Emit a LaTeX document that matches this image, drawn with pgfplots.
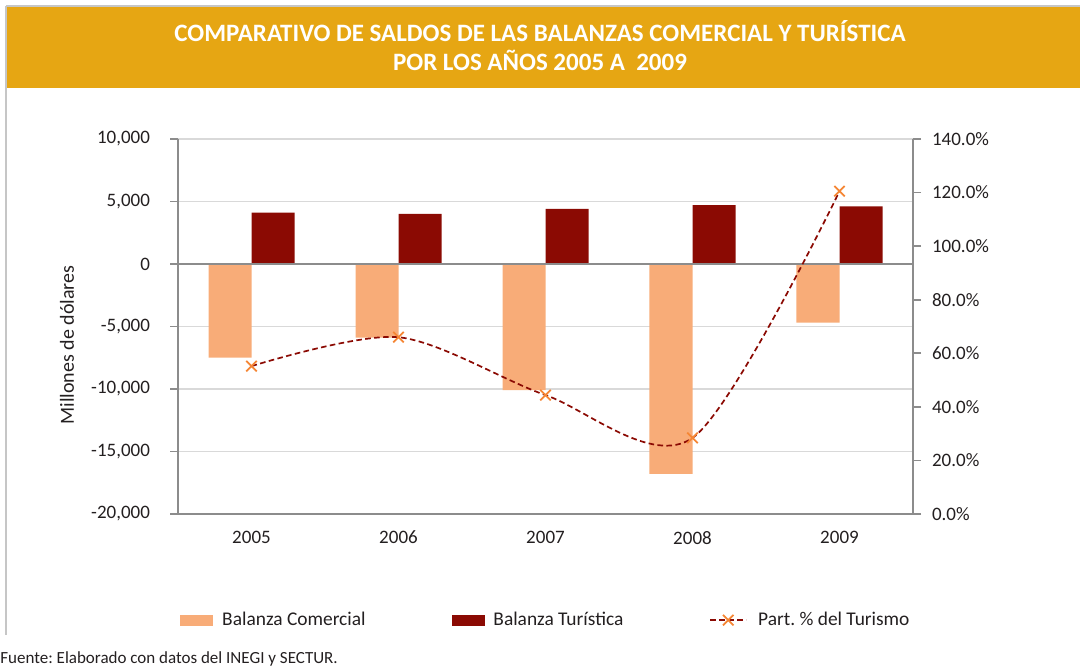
\documentclass[border=0pt]{standalone}
\usepackage{pgfplots}
\pgfplotsset{compat=1.18}
\usepackage{fontspec}
\setmainfont{Carlito}
\frenchspacing
\definecolor{banner}{HTML}{E6A613}
\definecolor{barC}{HTML}{F8AC78}
\definecolor{barT}{HTML}{8B0A03}
\definecolor{markc}{HTML}{F58634}
\definecolor{gridc}{HTML}{D9D9D9}
\definecolor{axisc}{HTML}{8C8C8C}
\definecolor{textc}{HTML}{231F20}
\pgfplotsset{mylinelegend/.style={legend image code/.code={%
  \draw[mark repeat=2,mark phase=2,##1] plot coordinates {(0pt,0pt) (9pt,0pt) (18pt,0pt)};
  \path (21.5pt,0pt);}}}
\begin{document}
\begin{tikzpicture}
\path[use as bounding box] (0pt,0pt) rectangle (540pt,334pt);
\fill[banner] (3pt,290pt) rectangle (540pt,331pt);
\draw[gray!45, line width=0.6pt] (3pt,331pt) -- (540pt,331pt);
\draw[gray!45, line width=0.6pt] (3pt,331pt) -- (3pt,16.5pt);
\node[white, font=\bfseries\fontsize{12.5}{14.5}\selectfont, align=center] at (270pt,311pt)
  {COMPARATIVO DE SALDOS DE LAS BALANZAS COMERCIAL Y TURÍSTICA\\POR LOS AÑOS 2005 A\ \ 2009};
\node[rotate=90, text=textc, font=\fontsize{10}{12}\selectfont] at (33.5pt,161.5pt) {Millones de dólares};
\node[anchor=west, text=textc, font=\fontsize{8.5}{10}\selectfont, inner sep=0pt] at (0pt,4.5pt) {Fuente: Elaborado con datos del INEGI y SECTUR.};

\begin{axis}[
  at={(89pt,77pt)}, anchor=south west, scale only axis,
  width=367.5pt, height=187.5pt,
  xmin=-0.5, xmax=4.5, ymin=-20000, ymax=10000,
  axis x line*=bottom, axis y line*=left,
  scaled y ticks=false,
  ytick={-20000,-15000,-10000,-5000,0,5000,10000},
  yticklabels={{-20,000},{-15,000},{-10,000},{-5,000},{0},{5,000},{10,000}},
  xtick={0,1,2,3,4}, xticklabels={2005,2006,2007,2008,2009},
  xtick style={draw=none},
  xticklabel style={yshift=-1pt},
  yticklabel style={xshift=-6.5pt},
  ymajorgrids, grid style={gridc, line width=0.6pt},
  axis line style={axisc, line width=0.8pt},
  ytick style={axisc, line width=0.8pt},
  major tick length=4pt, tick align=outside,
  ticklabel style={font=\fontsize{9.5}{12}\selectfont, text=textc},
  /pgf/number format/assume math mode=true,
  ybar, bar width=21.5pt, clip=false,
]
\addplot[fill=barC, draw=none, bar shift=-10.75pt] coordinates {(0,-7500) (1,-5900) (2,-10100) (3,-16800) (4,-4700)};
\addplot[fill=barT, draw=none, bar shift=10.75pt] coordinates {(0,4100) (1,4000) (2,4400) (3,4700) (4,4600)};
\draw[axisc, line width=0.8pt] (axis cs:-0.5,0) -- (axis cs:4.5,0);
\end{axis}

\begin{axis}[
  at={(89pt,77pt)}, anchor=south west, scale only axis,
  width=367.5pt, height=187.5pt,
  xmin=-0.5, xmax=4.5, ymin=0, ymax=140,
  axis x line=none, axis y line*=right,
  ytick={0,20,40,60,80,100,120,140},
  yticklabels={{0.0\%},{20.0\%},{40.0\%},{60.0\%},{80.0\%},{100.0\%},{120.0\%},{140.0\%}},
  yticklabel style={xshift=2pt},
  axis line style={axisc, line width=0.8pt},
  ytick style={axisc, line width=0.8pt},
  major tick length=4pt, tick align=outside,
  ticklabel style={font=\fontsize{9.5}{12}\selectfont, text=textc},
  /pgf/number format/assume math mode=true,
  clip=false,
  legend columns=3,
  legend style={draw=none, fill=none, at={(0.502,-0.283)}, anchor=center,
    font=\fontsize{9.7}{12}\selectfont, text=textc,
    /tikz/every even column/.append style={column sep=41pt}},
]
\addlegendimage{legend image code/.code={\fill[barC] (0pt,-2.5pt) rectangle (16pt,2.5pt); \path (18.5pt,0pt);}}
\addlegendimage{legend image code/.code={\fill[barT] (0pt,-2.5pt) rectangle (16pt,2.5pt); \path (18.5pt,0pt);}}
\addplot[barT, line width=0.85pt, dash pattern=on 2.8pt off 1.7pt, smooth,
  mark=x, mark size=3.7pt, mark options={solid, markc, line width=0.9pt}, mylinelegend]
  coordinates {(0,55.2) (1,66.0) (2,44.4) (3,28.4) (4,120.5)};
\legend{Balanza Comercial, Balanza Turística, Part. \% del Turismo}
\end{axis}
\end{tikzpicture}
\end{document}
